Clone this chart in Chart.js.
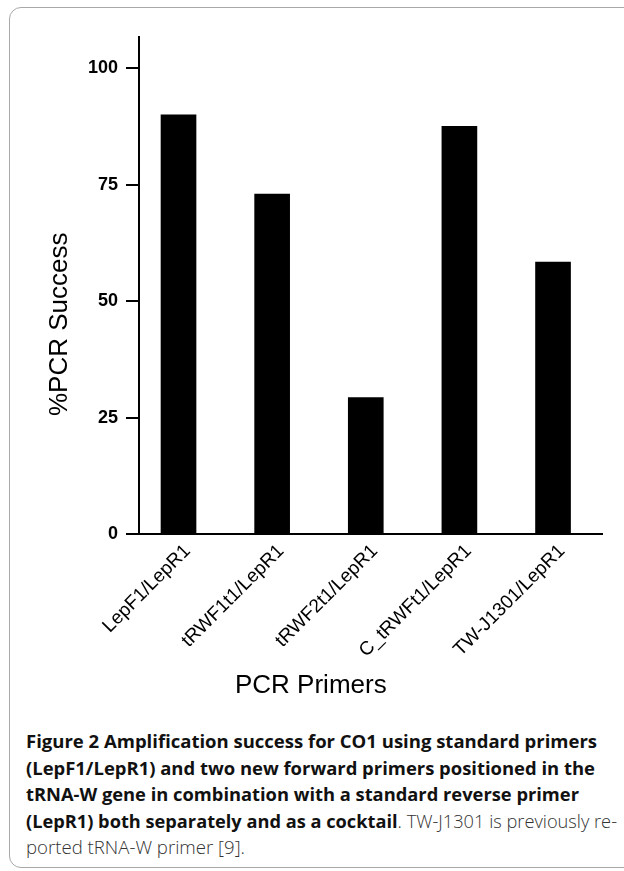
<!DOCTYPE html>
<html>
<head>
<meta charset="utf-8">
<script src="https://cdn.jsdelivr.net/npm/chart.js@4.4.1/dist/chart.umd.min.js"></script>
<style>
  html, body { margin: 0; padding: 0; background: #fff; }
  #page { position: relative; width: 624px; height: 871px; overflow: hidden; background: #fff; }
  #frame { position: absolute; left: 9px; top: 7px; width: 700px; height: 861px;
           border: 1px solid #a8a8a8; border-radius: 12px; box-sizing: border-box; }
  #chartWrap { position: absolute; left: 0; top: 0; width: 624px; height: 720px; }
  .ytitle { position: absolute; left: 0; top: 0; font-family: "Liberation Sans", Arial, sans-serif;
            font-size: 26px; color: #000; white-space: nowrap; transform-origin: 0 0; }
  .xtitle { position: absolute; font-family: "Liberation Sans", Arial, sans-serif;
            font-size: 26px; color: #000; white-space: nowrap; }
  #caption { position: absolute; left: 26px; top: 728px; font-family: "Open Sans", "Noto Sans", sans-serif;
             font-size: 18px; line-height: 26.6px; color: #111; }
  #caption .ln { display: block; height: 26.6px; }
  #caption .inner { display: inline-block; white-space: nowrap; transform-origin: 0 50%; }
  #caption b { font-weight: 700; color: #111; }
  #caption .reg { font-weight: 300; color: #333; }
</style>
</head>
<body>
<div id="page">
  <div id="frame"></div>
  <div id="chartWrap"><canvas id="c" width="624" height="720"></canvas></div>
  <div class="ytitle" id="ytitle">%PCR Success</div>
  <div class="xtitle" id="xtitle">PCR Primers</div>
  <div id="caption">
    <span class="ln"><span class="inner" data-w="571"><b>Figure 2 Amplification success for CO1 using standard primers</b></span></span>
    <span class="ln"><span class="inner" data-w="569"><b>(LepF1/LepR1) and two new forward primers positioned in the</b></span></span>
    <span class="ln"><span class="inner" data-w="553"><b>tRNA-W gene in combination with a standard reverse primer</b></span></span>
    <span class="ln"><span class="inner" data-w="591"><b>(LepR1) both separately and as a cocktail</b><span class="reg">. TW-J1301 is previously re-</span></span></span>
    <span class="ln"><span class="inner" data-w="219"><span class="reg">ported tRNA-W primer [9].</span></span></span>
  </div>
</div>
<script>
// ---- data ----
const categories = ["LepF1/LepR1", "tRWF1t1/LepR1", "tRWF2t1/LepR1", "C_tRWFt1/LepR1", "TW-J1301/LepR1"];
const successPct = [90, 73, 29.3, 87.5, 58.4];
const yTicks = [0, 25, 50, 75, 100];

const points = categories.map((c, i) => ({ x: i, y: successPct[i] }));

new Chart(document.getElementById('c'), {
  type: 'bar',
  data: {
    datasets: [{
      data: points,
      backgroundColor: '#000',
      borderWidth: 0,
      barThickness: 35
    }]
  },
  options: {
    responsive: false,
    animation: false,
    devicePixelRatio: 1,
    layout: { padding: { top: 37, right: 22, left: 0, bottom: 0 } },
    plugins: { legend: { display: false }, tooltip: { enabled: false } },
    scales: {
      x: {
        type: 'linear',
        offset: false,
        min: -0.422,
        max: 4.523,
        afterFit: s => { s.height = 186; },
        grid: { display: false, drawTicks: false, offset: false },
        border: { display: true, color: '#000', width: 2 },
        ticks: {
          stepSize: 1,
          includeBounds: false,
          autoSkip: false,
          minRotation: 45,
          maxRotation: 45,
          padding: 6,
          labelOffset: 9,
          color: '#000',
          font: { family: 'Liberation Sans', size: 19 },
          callback: v => categories[v] !== undefined ? categories[v] : ''
        }
      },
      y: {
        min: 0,
        max: 106.7,
        afterFit: s => { s.width = 139; },
        grid: { display: true, drawOnChartArea: false, drawTicks: true, tickLength: 13, color: '#000', lineWidth: 2 },
        border: { display: true, color: '#000', width: 2 },
        afterBuildTicks: s => { s.ticks = yTicks.map(v => ({ value: v })); },
        ticks: {
          padding: 8,
          color: '#000',
          font: { family: 'Liberation Sans', size: 18, weight: 'bold' }
        }
      }
    }
  }
});

// axis titles placed as text
const yt = document.getElementById('ytitle');
const ytw = yt.offsetWidth, yth = yt.offsetHeight;
yt.style.transform = 'translate(' + (58.5 - yth / 2) + 'px,' + (324 + ytw / 2) + 'px) rotate(-90deg)';
const xt = document.getElementById('xtitle');
xt.style.left = (311 - xt.offsetWidth / 2) + 'px';
xt.style.top = (684 - xt.offsetHeight / 2) + 'px';

// fit caption lines to the reference line widths
document.querySelectorAll('#caption .inner').forEach(el => {
  const target = parseFloat(el.dataset.w);
  const w = el.getBoundingClientRect().width;
  el.style.transform = 'scaleX(' + (target / w) + ')';
});
</script>
</body>
</html>
